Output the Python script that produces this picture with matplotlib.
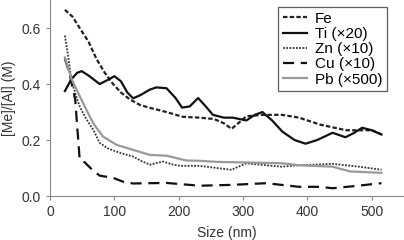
import numpy as np
import matplotlib.pyplot as plt

plt.rcParams['font.family'] = ['Liberation Sans', 'DejaVu Sans']

# values (size in nm, [Me]/[Al] in M)
fe_x = [23, 35, 46, 60, 72, 85, 98, 110, 124, 140, 155, 181, 206, 232, 255, 270, 282,
        295, 305, 330, 360, 387, 400, 420, 440, 460, 480, 500, 515]
fe_y = [0.665, 0.64, 0.60, 0.55, 0.49, 0.44, 0.40, 0.37, 0.345, 0.325, 0.315, 0.30, 0.283,
        0.28, 0.275, 0.26, 0.24, 0.265, 0.285, 0.29, 0.29, 0.28, 0.27, 0.255, 0.245, 0.235,
        0.235, 0.235, 0.22]

ti_x = [23, 33, 42, 49, 60, 77, 90, 100, 110, 120, 129, 140, 155, 165, 181, 195, 205, 217,
        230, 242, 253, 270, 284, 305, 318, 330, 345, 361, 380, 397, 415, 439, 459, 472, 485,
        500, 515]
ti_y = [0.375, 0.417, 0.44, 0.446, 0.43, 0.40, 0.415, 0.428, 0.41, 0.37, 0.349, 0.36, 0.38,
        0.388, 0.385, 0.35, 0.316, 0.32, 0.35, 0.32, 0.29, 0.28, 0.28, 0.27, 0.29, 0.30, 0.27,
        0.23, 0.20, 0.187, 0.20, 0.226, 0.21, 0.225, 0.244, 0.235, 0.22]

zn_x = [23, 28, 33, 40, 46, 55, 67, 77, 90, 103, 115, 129, 142, 155, 165, 176, 190, 202,
        232, 260, 282, 305, 336, 360, 387, 439, 480, 515]
zn_y = [0.573, 0.50, 0.417, 0.36, 0.32, 0.28, 0.237, 0.19, 0.17, 0.159, 0.15, 0.141, 0.125,
        0.112, 0.118, 0.123, 0.113, 0.108, 0.108, 0.10, 0.094, 0.117, 0.11, 0.105, 0.11,
        0.115, 0.105, 0.094]

cu_x = [23, 30, 39, 46, 54, 65, 77, 98, 115, 129, 181, 232, 282, 336, 387, 420, 439, 470, 515]
cu_y = [0.49, 0.44, 0.345, 0.13, 0.12, 0.095, 0.073, 0.065, 0.05, 0.045, 0.047, 0.037, 0.04,
        0.046, 0.033, 0.033, 0.028, 0.035, 0.046]

pb_x = [23, 33, 46, 56, 67, 82, 103, 129, 155, 181, 212, 232, 260, 305, 361, 387, 439, 466, 515]
pb_y = [0.495, 0.42, 0.357, 0.31, 0.26, 0.213, 0.183, 0.165, 0.147, 0.144, 0.127, 0.126,
        0.122, 0.12, 0.117, 0.11, 0.105, 0.088, 0.083]

fig = plt.figure(figsize=(4.04, 2.40), dpi=100)
ax = fig.add_axes([0.124, 0.183, 0.876, 0.817])

ax.plot(fe_x, fe_y, color='#222222', lw=1.6, ls=(0, (2, 1)), label='Fe')
ax.plot(ti_x, ti_y, color='#111111', lw=1.6, ls='-', label='Ti (\u00d720)')
ax.plot(zn_x, zn_y, color='#333333', lw=1.3, ls=(0, (1, 0.8)), label='Zn (\u00d710)')
ax.plot(cu_x, cu_y, color='#111111', lw=1.6, ls=(0, (5, 3)), label='Cu (\u00d710)')
ax.plot(pb_x, pb_y, color='#999999', lw=1.6, ls='-', label='Pb (\u00d7500)')

ax.set_xlim(0, 550)
ax.set_ylim(0, 0.7)
ax.set_xticks([0, 100, 200, 300, 400, 500])
ax.set_yticks([0.0, 0.2, 0.4, 0.6])
ax.set_yticklabels(['0.0', '0.2', '0.4', '0.6'])
for s in ['top', 'right']:
    ax.spines[s].set_visible(False)
for s in ['left', 'bottom']:
    ax.spines[s].set_color('#888888')
ax.tick_params(colors='#888888', labelcolor='#333333', labelsize=10, length=3)
ax.set_xlabel('Size (nm)', fontsize=10, color='#333333', labelpad=5)
ax.set_ylabel('[Me]/[Al] (M)', fontsize=10, color='#333333', labelpad=4)

leg = ax.legend(loc='upper right', fontsize=11, frameon=True, fancybox=False,
                handlelength=1.6, handletextpad=0.5, labelspacing=0.08,
                borderpad=0.3, borderaxespad=0, bbox_to_anchor=(0.952, 0.964))
leg.get_frame().set_edgecolor('#333333')
leg.get_frame().set_linewidth(0.9)

fig.savefig('out.png', dpi=100)
